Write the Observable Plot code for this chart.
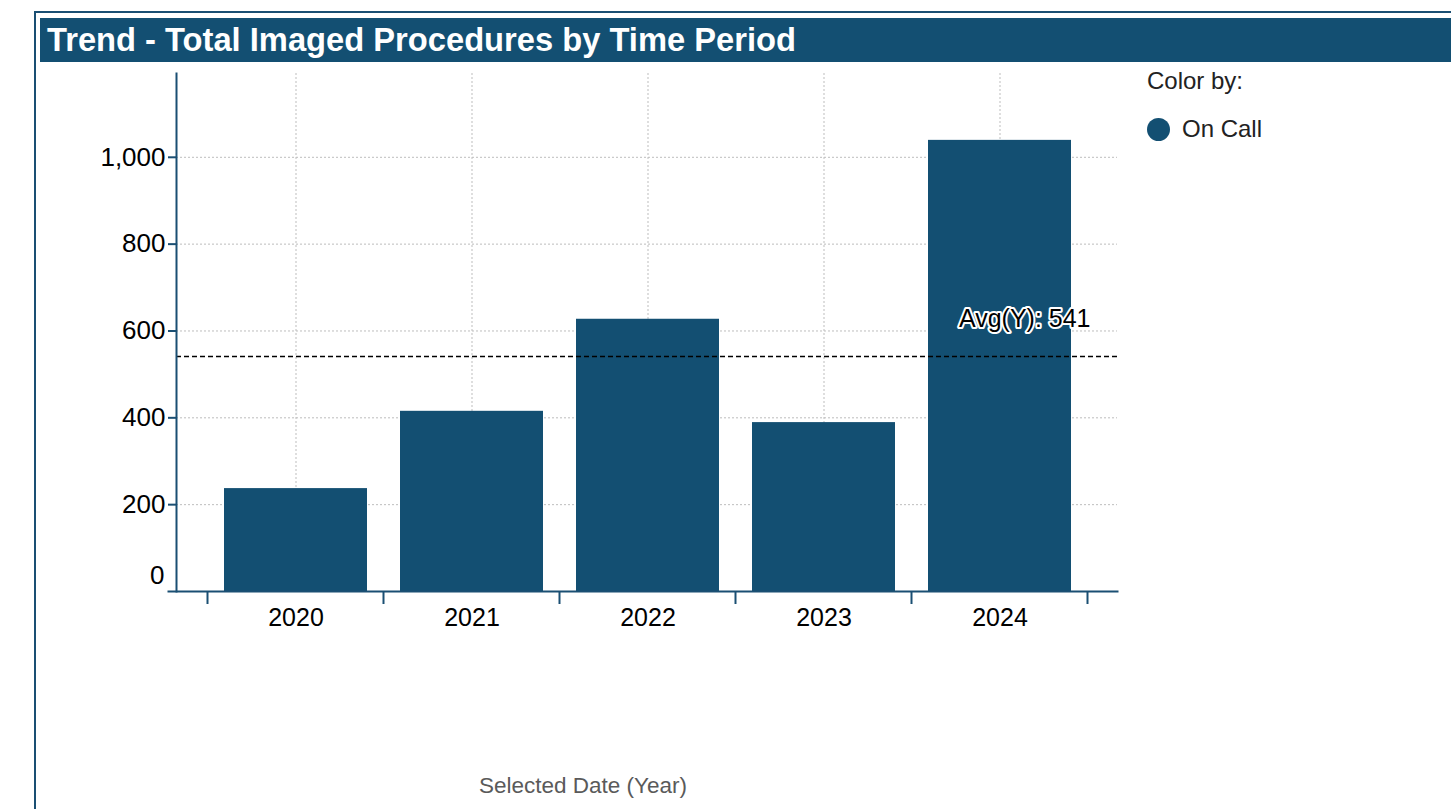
<!DOCTYPE html>
<html>
<head>
<meta charset="utf-8">
<script src="https://cdn.jsdelivr.net/npm/d3@7"></script>
<script src="https://cdn.jsdelivr.net/npm/@observablehq/plot@0.6"></script>
<style>
  body { margin: 0; background: #fff; font-family: "Liberation Sans", Arial, sans-serif; }
  #wrap { position: relative; width: 1451px; height: 809px; overflow: hidden; background: #fff; }
  #wrap svg { position: absolute; left: 0; top: 0; }
  .panel-border { position: absolute; left: 34px; top: 11px; width: 1500px; height: 900px;
    border-left: 2px solid #1a4f73; border-top: 2px solid #1a4f73; box-sizing: border-box; }
  .title { position: absolute; left: 40px; top: 18px; width: 1411px; height: 44px; background: #134f72;
    color: #fff; font-weight: bold; font-size: 32.7px; line-height: 44px; padding-left: 7px;
    box-sizing: border-box; white-space: nowrap; z-index: 2; }
  .legend-head { position: absolute; left: 1147px; top: 69px; font-size: 24px; line-height: 24px; color: #222; z-index: 2; }
  .legend-item { position: absolute; left: 1147px; top: 117px; font-size: 24px; line-height: 24px; color: #222;
    z-index: 2; display: flex; align-items: center; }
  .legend-item .swatch { display: inline-block; width: 23px; height: 23px; border-radius: 50%; margin-right: 12px; }
  .x-title { position: absolute; left: 583px; top: 775px; transform: translateX(-50%); font-size: 22.5px;
    line-height: 22px; color: #5a5a5a; white-space: nowrap; z-index: 2; }
</style>
</head>
<body>
<div id="wrap"></div>
<script>
// Yearly totals of imaged procedures, single "On Call" series
const years = ["2020", "2021", "2022", "2023", "2024"];
const procedures = [237, 415, 627, 389, 1039];
const yTicks = [0, 200, 400, 600, 800, 1000];
const seriesName = "On Call";
const titleText = "Trend - Total Imaged Procedures by Time Period";
const xTitle = "Selected Date (Year)";

const barColor = "#134f72";
const axisColor = "#1a4f73";
const gridColor = "#bdbdbd";
const font = '"Liberation Sans", Arial, sans-serif';
const thousands = v => v.toLocaleString("en-US");

const rows = years.map((year, i) => ({ year, value: procedures[i], series: seriesName }));
const average = d3.mean(procedures);

const chart = Plot.plot({
  width: 1451,
  height: 809,
  marginLeft: 176,
  marginRight: 334,
  marginTop: 73,
  marginBottom: 218,
  style: { fontFamily: font, fontSize: "25px", color: "#000", background: "transparent", overflow: "visible" },
  x: { domain: years, insetLeft: 31, insetRight: 30, paddingInner: 0.19, paddingOuter: 0.095, label: null },
  y: { domain: [0, 1193], label: null },
  marks: [
    Plot.gridY(yTicks, { stroke: gridColor, strokeOpacity: 1, strokeDasharray: "2,2" }),
    Plot.gridX({ stroke: gridColor, strokeOpacity: 1, strokeDasharray: "2,2" }),
    Plot.barY(rows, { x: "year", y: "value", fill: barColor }),
    Plot.ruleY([average], { stroke: "#000", strokeWidth: 1.5, strokeDasharray: "5,3" }),
    Plot.text([average], {
      y: d => d,
      text: d => `Avg(Y): ${Math.round(d)}`,
      frameAnchor: "right",
      textAnchor: "end",
      dx: -27,
      dy: -37,
      fontSize: 25,
      fill: "#000",
      stroke: "#fff",
      strokeWidth: 4
    }),
    Plot.frame({ anchor: "left", stroke: axisColor, strokeWidth: 2 }),
    Plot.frame({ anchor: "bottom", stroke: axisColor, strokeWidth: 2, insetLeft: -8 }),
    Plot.axisY(yTicks.filter(v => v > 0), {
      tickSize: 8, tickPadding: 3, stroke: axisColor, strokeWidth: 2, fill: "#000", tickFormat: thousands, fontSize: 26
    }),
    Plot.axisY([0], { tickSize: 0, tickPadding: 12, dy: -16, fill: "#000", tickFormat: thousands, fontSize: 26 }),
    Plot.axisX({ tickSize: 0, tickPadding: 17, fill: "#000" })
  ]
});

// Tick marks on the category boundaries below the baseline
const sx = chart.scale("x");
const sy = chart.scale("y");
const gap = (sx.step - sx.bandwidth) / 2;
const boundaries = years.map(y => sx.apply(y) - gap)
  .concat([sx.apply(years[years.length - 1]) + sx.bandwidth + gap]);
const base = sy.apply(0);
d3.select(chart).append("g")
  .attr("stroke", axisColor)
  .attr("stroke-width", 2)
  .selectAll("line")
  .data(boundaries)
  .join("line")
  .attr("x1", d => d).attr("x2", d => d)
  .attr("y1", base).attr("y2", base + 13);

const wrap = document.getElementById("wrap");
wrap.append(chart);

const border = document.createElement("div");
border.className = "panel-border";
wrap.append(border);

const title = document.createElement("div");
title.className = "title";
title.textContent = titleText;
wrap.append(title);

const legendHead = document.createElement("div");
legendHead.className = "legend-head";
legendHead.textContent = "Color by:";
wrap.append(legendHead);

const legendItem = document.createElement("div");
legendItem.className = "legend-item";
const swatch = document.createElement("span");
swatch.className = "swatch";
swatch.style.background = barColor;
legendItem.append(swatch, document.createTextNode(seriesName));
wrap.append(legendItem);

const xt = document.createElement("div");
xt.className = "x-title";
xt.textContent = xTitle;
wrap.append(xt);
</script>
</body>
</html>
